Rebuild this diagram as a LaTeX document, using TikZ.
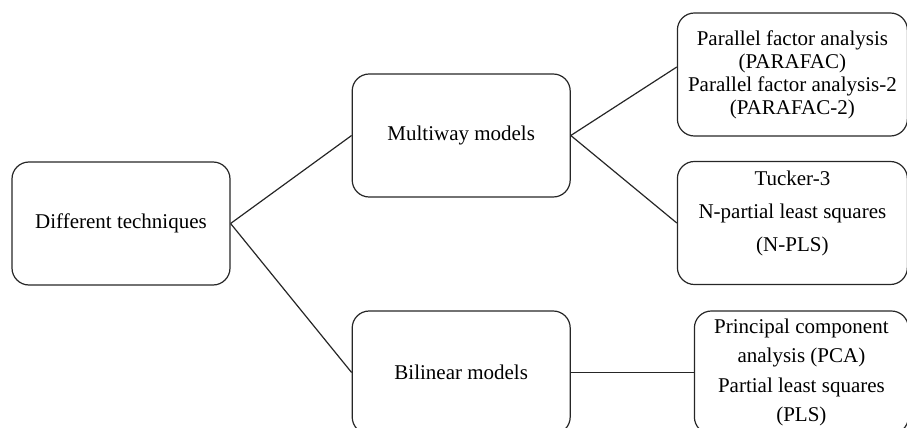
\documentclass[tikz,border=0pt]{standalone}
\usepackage{fontspec}
\setmainfont{Liberation Serif}
\usetikzlibrary{positioning}

\begin{document}
\begin{tikzpicture}[
            box/.style={draw=black!85, line width=0.6pt, rounded corners=8.5pt, minimum width=109pt, minimum height=61.5pt, align=center, font=\fontsize{10.5}{11.5}\selectfont},
            widebox/.style={box, minimum width=115pt},
            link/.style={draw=black!85, line width=0.6pt},
            node distance=60.5pt
        ]

        \useasboundingbox (0,0) rectangle (453.5pt,-214pt);

        \node[box] (diff) at (60.5pt,-111.75pt) {Different techniques};

        \node[box, right=of diff, yshift=44pt] (multi) {Multiway models};

        \node[box, right=of diff, yshift=-74.5pt] (bilin) {Bilinear models};

        \node[widebox, right=53pt of multi, yshift=30.5pt] (parafac) {Parallel factor analysis\\(PARAFAC)\\Parallel factor analysis-2\\(PARAFAC-2)};

        \node[widebox, right=53pt of multi, yshift=-43.75pt] (tucker) {Tucker-3\\[5pt]N-partial least squares\\[5pt](N-PLS)\\[0pt]\mbox{}};

        \node[box, minimum width=107pt, right=61.5pt of bilin] (pca) {Principal component\\[3.2pt]analysis (PCA)\\[3.2pt]Partial least squares\\[3.2pt](PLS)};

        % Branches
        \draw[link] (diff.east) -- (multi.west);
        \draw[link] (diff.east) -- (bilin.west);
        \draw[link] (multi.east) -- ([yshift=3.75pt]parafac.west);
        \draw[link] (multi.east) -- (tucker.west);
        \draw[link] (bilin.east) -- (pca.west);

    \end{tikzpicture}
\end{document}
